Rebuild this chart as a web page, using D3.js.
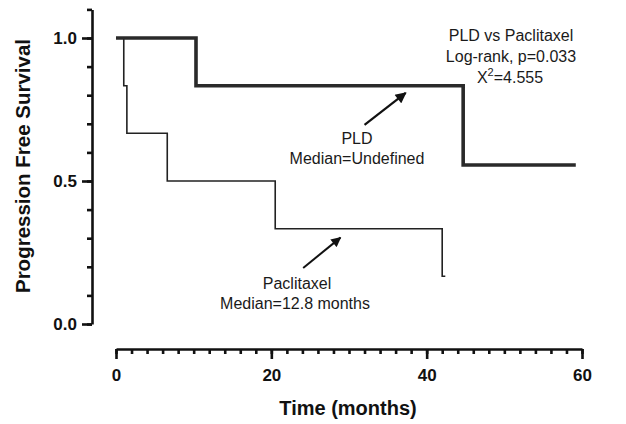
<!DOCTYPE html>
<html>
<head>
<meta charset="utf-8">
<script src="https://cdn.jsdelivr.net/npm/d3@7"></script>
<style>
  body { margin: 0; background: #fff; }
  svg { display: block; font-family: Arial, "Liberation Sans", sans-serif; }
  .axis path, .axis line { stroke: #111; stroke-width: 2.6px; }
  .axis text { font-size: 17px; font-weight: bold; fill: #111; }
  .note { font-size: 16px; fill: #1a1a1a; }
</style>
</head>
<body>
<div id="chart"></div>
<script>
// Kaplan-Meier steps (months, survival fraction)
var pldTimes = [0, 10.3, 44.7, 59.2];
var pldSurv  = [1, 0.833, 0.556, 0.556];

var pacTimes = [0, 1.0, 1.4, 6.6, 20.5, 42.0, 42.4];
var pacSurv  = [1, 0.833, 0.667, 0.5, 0.333, 0.167, 0.167];

var xTicks = [0, 20, 40, 60];
var yTicks = [0, 0.5, 1.0];
var yTickLabels = ["0.0", "0.5", "1.0"];

var statLines = ["PLD vs Paclitaxel", "Log-rank, p=0.033"];
var chiValue = "=4.555";

var width = 626, height = 424;

var svg = d3.select("#chart").append("svg")
    .attr("width", width)
    .attr("height", height);

svg.append("rect").attr("width", width).attr("height", height).attr("fill", "#fff");

// scales
var x = d3.scaleLinear().domain([0, 60]).range([116, 582]);
var y = d3.scaleLinear().domain([0, 1]).range([324, 38]);

var xAxisY = 349;
var yAxisX = 92;

// x axis (minor + major)
svg.append("g")
    .attr("class", "axis")
    .attr("transform", "translate(0," + xAxisY + ")")
    .call(d3.axisBottom(x).tickValues(d3.range(0, 61, 2)).tickSize(5).tickSizeOuter(0).tickFormat(""));

svg.append("g")
    .attr("class", "axis")
    .attr("transform", "translate(0," + xAxisY + ")")
    .call(d3.axisBottom(x).tickValues(xTicks).tickSize(10).tickSizeOuter(0).tickPadding(10)
        .tickFormat(function(d) { return d; }))
    .select(".domain").remove();

// y axis, runs a bit above 1.0
var yTop = d3.scaleLinear().domain([0, 1.1]).range([y(0), y(1.1)]);
svg.append("g")
    .attr("class", "axis")
    .attr("transform", "translate(" + yAxisX + ",0)")
    .call(d3.axisLeft(yTop).tickValues(d3.range(0, 11.5, 1).map(function(d) { return d / 10; }))
        .tickSize(5).tickSizeOuter(0).tickFormat(""));

svg.append("g")
    .attr("class", "axis")
    .attr("transform", "translate(" + yAxisX + ",0)")
    .call(d3.axisLeft(y).tickValues(yTicks).tickSize(10).tickSizeOuter(0).tickPadding(5)
        .tickFormat(function(d, i) { return yTickLabels[i]; }))
    .select(".domain").remove();

// axis titles
svg.append("text")
    .attr("x", 348)
    .attr("y", 415)
    .attr("text-anchor", "middle")
    .style("font-size", "20px")
    .style("font-weight", "bold")
    .style("fill", "#111")
    .text("Time (months)");

svg.append("text")
    .attr("transform", "translate(30,166) rotate(-90)")
    .attr("text-anchor", "middle")
    .style("font-size", "20.5px")
    .style("font-weight", "bold")
    .style("fill", "#111")
    .text("Progression Free Survival");

// survival curves
var line = d3.line()
    .x(function(d) { return x(d.t); })
    .y(function(d) { return y(d.s); })
    .curve(d3.curveStepAfter);

var pld = pldTimes.map(function(t, i) { return { t: t, s: pldSurv[i] }; });
var pac = pacTimes.map(function(t, i) { return { t: t, s: pacSurv[i] }; });

svg.append("path")
    .datum(pac)
    .attr("fill", "none")
    .attr("stroke", "#222")
    .attr("stroke-width", 1.6)
    .attr("d", line);

svg.append("path")
    .datum(pld)
    .attr("fill", "none")
    .attr("stroke", "#2a2a2a")
    .attr("stroke-width", 3.6)
    .attr("d", line);

// arrows
svg.append("defs").append("marker")
    .attr("id", "head")
    .attr("viewBox", "0 0 10 10")
    .attr("refX", 9).attr("refY", 5)
    .attr("markerWidth", 5.5).attr("markerHeight", 5)
    .attr("markerUnits", "strokeWidth")
    .attr("orient", "auto")
  .append("path")
    .attr("d", "M0,0 L10,5 L0,10 z")
    .attr("fill", "#111");

svg.append("line")
    .attr("x1", x(32.0)).attr("y1", y(0.696))
    .attr("x2", x(37.3)).attr("y2", y(0.808))
    .attr("stroke", "#111").attr("stroke-width", 2.2)
    .attr("marker-end", "url(#head)");

svg.append("line")
    .attr("x1", x(24.1)).attr("y1", y(0.196))
    .attr("x2", x(28.9)).attr("y2", y(0.302))
    .attr("stroke", "#111").attr("stroke-width", 2)
    .attr("marker-end", "url(#head)");

// labels
function note(tx, ty, txt) {
    return svg.append("text").attr("class", "note")
        .attr("x", tx).attr("y", ty)
        .attr("text-anchor", "middle")
        .text(txt);
}
note(357, 144, "PLD");
note(357, 164, "Median=Undefined");
note(297, 289, "Paclitaxel");
note(295, 309, "Median=12.8 months");

note(511, 41, statLines[0]);
note(511, 62, statLines[1]);
var chi = note(510, 83, "");
chi.append("tspan").text("X");
chi.append("tspan").attr("dy", -7).style("font-size", "11px").text("2");
chi.append("tspan").attr("dy", 7).text(chiValue);
</script>
</body>
</html>
